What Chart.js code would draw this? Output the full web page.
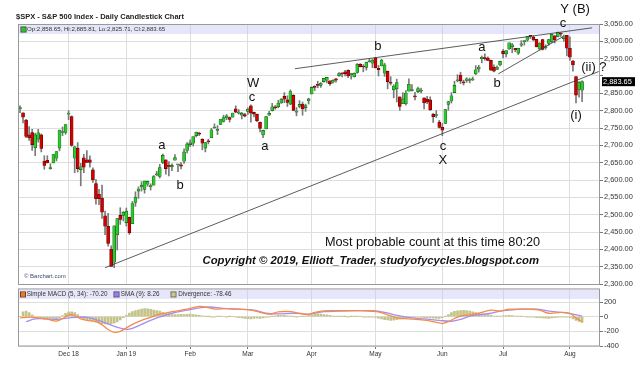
<!DOCTYPE html>
<html>
<head>
<meta charset="utf-8">
<script src="https://cdn.jsdelivr.net/npm/chart.js@4.4.1/dist/chart.umd.min.js"></script>
<style>
  html, body { margin: 0; padding: 0; background: #fff; }
  #wrap { position: relative; width: 640px; height: 384px; overflow: hidden; }
  #main { position: absolute; left: 0; top: 0; }
  #macd { position: absolute; left: 0; top: 284px; }
</style>
</head>
<body>
<div id="wrap">
  <canvas id="main" width="640" height="292"></canvas>
  <canvas id="macd" width="640" height="100"></canvas>
</div>
<script>
// daily candles, Nov 8 2018 .. Aug 7 2019 (index = trading day)
const opens = [2806,2794,2773,2730,2737,2693,2718,2730,2654,2657,2633,2649,2663,2692,2737,2737,
  2790,2783,2663,2691,2630,2664,2658,2658,2629,2590,2559,2548,2497,2466,2400,2363,2442,2498,2498,
  2477,2492,2474,2535,2568,2580,2573,2588,2581,2585,2615,2610,2651,2658,2643,2638,2657,2644,2644,2654,2685,
  2702,2706,2728,2735,2717,2692,2712,2722,2750,2743,2760,2769,2779,2780,2781,2805,2793,2787,2789,
  2798,2814,2795,2790,2766,2730,2747,2787,2800,2811,2811,2822,2841,2831,2819,2844,2796,2812,2819,2809,2828,
  2848,2868,2876,2873,2884,2888,2886,2882,2892,2901,2908,2912,2916,2904,2898,2910,2934,2928,2925,2941,2937,
  2952,2922,2929,2908,2914,2880,2860,2863,2840,2820,2820,2856,2858,2841,2855,2856,2837,2833,2831,2790,2786,2767,
  2752,2763,2818,2828,2852,2886,2903,2882,2887,2887,2889,2906,2920,2950,2952,2952,2945,2926,2919,2932,
  2971,2964,2978,2984,2980,2966,2989,2999,3003,3017,3012,3006,2978,3005,2982,2994,2999,3016,3013,3024,3008,3017,
  2980,2943,2898,2861,2859];
const highs = [2814,2794,2775,2754,2746,2735,2746,2733,2670,2670,2647,2674,2682,2744,2753,2760,
  2800,2785,2697,2708,2648,2674,2685,2670,2635,2601,2573,2585,2510,2504,2410,2468,2489,2520,2509,
  2519,2493,2538,2566,2580,2595,2597,2597,2589,2613,2625,2645,2675,2658,2653,2647,2673,2644,2650,2690,2708,
  2716,2724,2738,2738,2719,2708,2718,2749,2762,2757,2775,2787,2789,2782,2793,2814,2803,2795,2792,
  2808,2817,2796,2790,2767,2744,2784,2798,2821,2815,2830,2835,2852,2843,2860,2846,2809,2829,2825,2819,2836,
  2869,2872,2885,2881,2893,2895,2886,2889,2893,2910,2909,2916,2918,2908,2909,2936,2936,2933,2940,2949,2948,
  2954,2931,2948,2937,2914,2898,2875,2891,2840,2852,2858,2892,2875,2853,2868,2865,2837,2841,2840,2792,2800,2772,
  2763,2804,2827,2852,2885,2904,2911,2888,2895,2894,2897,2930,2931,2958,2964,2955,2946,2932,2929,2943,
  2977,2973,2996,2994,2980,2980,3002,3002,3014,3017,3016,3006,2996,3006,2990,3006,3019,3017,3027,3025,3018,3017,
  3013,2945,2898,2884,2886];
const lows = [2794,2765,2722,2714,2685,2670,2709,2681,2631,2649,2631,2649,2655,2684,2728,2732,
  2774,2697,2621,2623,2583,2621,2650,2637,2593,2530,2529,2489,2442,2409,2351,2347,2398,2472,2482,
  2467,2443,2474,2524,2547,2568,2562,2582,2571,2585,2612,2606,2647,2617,2612,2627,2657,2624,2632,2648,2678,
  2696,2698,2724,2728,2687,2681,2704,2722,2749,2731,2760,2767,2774,2767,2781,2794,2790,2776,2782,
  2789,2767,2782,2768,2739,2722,2747,2786,2799,2804,2808,2821,2823,2812,2817,2800,2785,2808,2787,2798,2819,
  2848,2858,2866,2867,2882,2880,2873,2879,2882,2899,2897,2900,2895,2891,2897,2908,2926,2912,2917,2940,2924,
  2923,2900,2929,2899,2863,2874,2837,2825,2801,2820,2816,2856,2856,2831,2852,2851,2805,2820,2801,2766,2780,2750,
  2728,2763,2801,2822,2852,2883,2878,2874,2882,2880,2887,2904,2911,2938,2946,2944,2916,2912,2918,2929,
  2952,2955,2977,2967,2970,2962,2985,2989,3000,3008,3001,2984,2975,2975,2977,2989,2996,2995,3013,3014,3000,2958,
  2945,2914,2822,2839,2826];
const closes = [2807,2781,2726,2722,2702,2730,2736,2691,2642,2650,2633,2673,2682,2744,2738,2760,
  2790,2700,2696,2633,2638,2637,2651,2651,2600,2546,2546,2507,2467,2417,2351,2468,2489,2486,2507,
  2510,2448,2532,2550,2574,2585,2597,2596,2583,2610,2616,2636,2671,2633,2639,2642,2665,2644,2640,2681,2704,
  2707,2725,2738,2732,2706,2708,2710,2745,2753,2746,2776,2780,2785,2775,2793,2796,2794,2792,2784,
  2804,2793,2790,2771,2749,2743,2783,2792,2811,2808,2822,2833,2833,2824,2855,2801,2798,2818,2805,2815,2834,
  2867,2867,2873,2879,2893,2896,2878,2888,2888,2907,2906,2907,2900,2905,2908,2934,2927,2926,2940,2943,2946,
  2924,2918,2946,2932,2884,2879,2871,2881,2812,2834,2851,2876,2860,2840,2864,2856,2822,2826,2802,2783,2789,2752,
  2744,2803,2826,2843,2873,2887,2886,2880,2892,2887,2890,2918,2926,2954,2950,2945,2917,2914,2925,2942,
  2964,2973,2996,2990,2976,2980,2993,3000,3014,3014,3004,2984,2995,2977,2985,3005,3020,3004,3026,3021,3013,2980,
  2954,2932,2845,2882,2884];

// MACD panel
const macdIdx  = [0,3,6,9,12,14,16,17,18,20,22,25,27,29,31,33,35,37,40,43,46,50,55,59,61,64,68,72,76,79,82,85,89,92,95,97,100,107,114,118,121,124,128,131,134,138,139,141,143,145,148,151,155,158,161,165,168,171,174,178,181,183,185];
const macdVals = [-17,-5,-17,-34,-60,-25,22,26,13,-30,-51,-68,-111,-175,-213,-200,-153,-105,-51,-9,34,68,102,140,132,104,110,102,89,60,34,66,68,47,30,58,80,81,81,66,26,-15,-30,-38,-51,-85,-94,-68,-25,9,26,47,89,77,102,102,102,89,47,60,47,-17,-70];
const smaIdx  = [2,5,9,12,16,20,23,26,30,33,36,40,43,46,50,55,59,62,68,72,77,81,85,90,95,100,107,116,120,124,129,133,138,142,145,148,151,155,158,161,165,170,174,179,182,185];
const smaVals = [-68,-30,-30,-38,-17,-4,-17,-55,-115,-157,-170,-105,-51,-4,47,89,119,132,110,102,89,47,38,47,36,68,81,81,60,17,-17,-30,-51,-62,-38,9,26,47,77,89,102,102,77,55,34,8];
const divergence = [0,65,77,55,25,-5,-15,-20,-20,-15,-20,-25,-30,-15,15,45,65,68,55,30,
  -15,-35,-45,-55,-65,-75,-85,-95,-100,-102,-100,-90,-70,-45,-15,20,50,70,85,95,
  105,110,108,100,90,82,75,60,45,35,30,28,30,32,30,33,35,30,25,20,
  12,5,2,-3,-5,3,5,0,-3,2,0,-5,-12,-18,-22,-28,-30,-25,-20,-22,
  -18,-10,-5,5,12,17,15,18,12,8,3,-2,0,5,10,15,25,32,38,35,
  30,25,18,10,5,3,5,2,-3,2,4,3,0,-2,-4,-3,-5,-10,-20,-30,
  -40,-45,-50,-48,-42,-35,-30,-22,-15,-10,-8,-5,-10,-12,-15,-18,-20,-25,-22,-15,
  5,30,55,72,80,85,88,85,75,65,55,45,35,30,28,20,10,5,8,12,
  15,18,15,10,5,3,0,-3,-5,-8,-12,-15,-18,-20,-22,-18,-15,-10,-5,-2,
  -5,-15,-30,-50,-65,-78];

// x axis: first trading day of each month
const monthIdx = [16,35,56,75,96,117,139,159,181];
const monthLabels = ['Dec 18','Jan 19','Feb','Mar','Apr','May','Jun','Jul','Aug'];

// Elliott wave count labels and trend lines
const waveText  = ['W','c','a','a','b','b','a','b','c','X','c','Y (B)','(ii) ?','(i)'];
const waveIdx   = [76.7,76.4,80.6,46.7,52.7,117.8,152,157,139.2,139.2,178.7,182.7,188.9,183];
const wavePrice = [2878,2837,2696,2699,2584,2985,2982,2878,2696,2656,3051,3091,2924,2785];
const lineFromIdx   = [28,90.5,157.4];
const lineFromPrice = [2347,2921,2906];
const lineToIdx     = [190.5,188.3,178.8];
const lineToPrice   = [2913,3039,3014];

const X_MIN = -0.66, X_MAX = 190.9;
const FONT = '"Liberation Sans", Arial, sans-serif';
const GRID = '#dedede';
const BAND = 'rgba(200,200,245,0.45)';

const fmt = v => {
  const [a, b] = v.toFixed(2).split('.');
  return a.replace(/\B(?=(\d{3})+(?!\d))/g, ',') + '.' + b;
};
const days = closes.map((c, i) => i);

function legendSquare(ctx, x, y, fill, stroke) {
  ctx.fillStyle = fill;
  ctx.fillRect(x, y, 4, 4);
  ctx.strokeStyle = stroke;
  ctx.lineWidth = 1;
  ctx.strokeRect(x - 0.5, y - 0.5, 5, 5);
}

const mainDecor = {
  id: 'mainDecor',
  beforeDatasetsDraw(chart) {
    const { ctx, chartArea: a } = chart;
    ctx.save();
    ctx.fillStyle = BAND;
    ctx.fillRect(a.left, a.top, a.right - a.left, 10);
    ctx.restore();
  },
  afterDraw(chart) {
    const { ctx, chartArea: a, scales: { x, y } } = chart;
    ctx.save();
    ctx.strokeStyle = '#999';
    ctx.lineWidth = 1;
    ctx.strokeRect(a.left + 0.5, a.top + 0.5, a.right - a.left - 1, a.bottom - a.top);

    // title + ohlc header
    ctx.fillStyle = '#222';
    ctx.font = 'bold 7.5px ' + FONT;
    ctx.textBaseline = 'middle';
    ctx.textAlign = 'left';
    ctx.fillText('$SPX - S&P 500 Index - Daily Candlestick Chart', 16, 16.5);
    legendSquare(ctx, a.left + 3.5, a.top + 3.5, '#22c822', '#145014');
    ctx.fillStyle = '#333';
    ctx.font = '6.1px ' + FONT;
    const n = closes.length - 1;
    ctx.fillText('Op:2,858.65, Hi:2,885.81, Lo:2,825.71, Cl:' + fmt(2883.65), a.left + 9, a.top + 5.5);

    ctx.fillStyle = '#3a4a6a';
    ctx.font = '6px ' + FONT;
    ctx.fillText('\u00a9 Barchart.com', a.left + 6, a.bottom - 7.5);

    // trend lines
    ctx.strokeStyle = '#333';
    ctx.lineWidth = 0.8;
    lineFromIdx.forEach((fi, k) => {
      ctx.beginPath();
      ctx.moveTo(x.getPixelForValue(fi), y.getPixelForValue(lineFromPrice[k]));
      ctx.lineTo(x.getPixelForValue(lineToIdx[k]), y.getPixelForValue(lineToPrice[k]));
      ctx.stroke();
    });

    // wave labels
    ctx.fillStyle = '#111';
    ctx.font = '13px ' + FONT;
    ctx.textAlign = 'center';
    waveText.forEach((t, k) => {
      ctx.fillText(t, x.getPixelForValue(waveIdx[k]), y.getPixelForValue(wavePrice[k]));
    });

    ctx.textAlign = 'left';
    ctx.font = '12.7px ' + FONT;
    ctx.fillText('Most probable count at this time 80:20', 325, 242.5);
    ctx.font = 'italic bold 11.3px ' + FONT;
    ctx.fillText('Copyright \u00a9 2019, Elliott_Trader, studyofycycles.blogspot.com', 202.5, 260.5);

    // last price flag
    const py = y.getPixelForValue(closes[n] - 0.35);
    ctx.fillStyle = '#000';
    ctx.fillRect(a.right + 2, py - 4.5, 33, 9);
    ctx.fillStyle = '#fff';
    ctx.font = '7.4px ' + FONT;
    ctx.fillText(fmt(2883.65), a.right + 3, py + 0.5);
    ctx.restore();
  }
};

const macdDecor = {
  id: 'macdDecor',
  beforeDatasetsDraw(chart) {
    const { ctx, chartArea: a } = chart;
    ctx.save();
    ctx.fillStyle = BAND;
    ctx.fillRect(a.left, a.top, a.right - a.left, 9.5);
    ctx.restore();
  },
  afterDraw(chart) {
    const { ctx, chartArea: a } = chart;
    ctx.save();
    ctx.strokeStyle = '#999';
    ctx.lineWidth = 1;
    ctx.strokeRect(a.left + 0.5, a.top - 0.5, a.right - a.left - 1, a.bottom - a.top + 0.5);
    ctx.font = '6.3px ' + FONT;
    ctx.textBaseline = 'middle';
    ctx.textAlign = 'left';
    const cy = a.top + 5;
    legendSquare(ctx, 21, cy - 2, '#f07828', '#7a3a10');
    ctx.fillStyle = '#333';
    ctx.fillText('Simple MACD (5, 34): -70.20', 26.7, cy);
    legendSquare(ctx, 114.5, cy - 2, '#9a78f0', '#4a3a80');
    ctx.fillStyle = '#333';
    ctx.fillText('SMA (9): 8.26', 120.7, cy);
    legendSquare(ctx, 171.5, cy - 2, '#c8c890', '#6a6a40');
    ctx.fillStyle = '#333';
    ctx.fillText('Divergence: -78.46', 178.3, cy);
    ctx.restore();
  }
};

const xTicks = s => { s.ticks = monthIdx.map(v => ({ value: v })); };

new Chart(document.getElementById('main'), {
  type: 'bar',
  data: {
    datasets: [
      {
        label: 'range',
        data: days.map(i => ({ x: i, y: [lows[i], highs[i]] })),
        backgroundColor: '#7a7a7a',
        barThickness: 1,
        grouped: false,
        order: 2
      },
      {
        label: 'body',
        data: days.map(i => ({ x: i, y: [opens[i], closes[i]] })),
        backgroundColor: days.map(i => closes[i] >= opens[i] ? '#2bcb2b' : '#d40000'),
        borderColor: days.map(i => closes[i] >= opens[i] ? '#1d5a1d' : '#5a0000'),
        borderWidth: 0.6,
        borderSkipped: false,
        barThickness: 3,
        minBarLength: 1,
        grouped: false,
        order: 1
      }
    ]
  },
  options: {
    responsive: false,
    animation: false,
    layout: { padding: { left: 18, top: 24, right: 0, bottom: 8 } },
    plugins: { legend: { display: false }, tooltip: { enabled: false } },
    scales: {
      x: {
        type: 'linear', min: X_MIN, max: X_MAX, offset: false,
        afterBuildTicks: xTicks,
        afterFit: s => { s.height = 0; },
        ticks: { display: false },
        grid: { color: GRID, drawTicks: false, offset: false },
        border: { display: false }
      },
      y: {
        position: 'right', min: 2300, max: 3050,
        afterBuildTicks: s => {
          const t = [];
          for (let v = 2300; v <= 3050; v += 50) t.push({ value: v });
          s.ticks = t;
        },
        afterFit: s => { s.width = 40; },
        ticks: {
          autoSkip: false, padding: 1, color: '#333',
          font: { family: FONT, size: 7.4 },
          callback: v => v === 2900 ? '' : fmt(v)
        },
        grid: { color: GRID, tickLength: 3, tickColor: '#777' },
        border: { display: false }
      }
    }
  },
  plugins: [mainDecor]
});

new Chart(document.getElementById('macd'), {
  type: 'bar',
  data: {
    datasets: [
      {
        type: 'line', label: 'Simple MACD (5, 34)',
        data: macdIdx.map((v, k) => ({ x: v, y: macdVals[k] })),
        borderColor: '#f58c46', borderWidth: 1.3, pointRadius: 0, tension: 0.35, order: 1
      },
      {
        type: 'line', label: 'SMA (9)',
        data: smaIdx.map((v, k) => ({ x: v, y: smaVals[k] })),
        borderColor: '#a98cf0', borderWidth: 1.3, pointRadius: 0, tension: 0.35, order: 2
      },
      {
        type: 'bar', label: 'Divergence',
        data: days.map(i => ({ x: i, y: divergence[i] })),
        backgroundColor: '#c3c388', barThickness: 2, order: 3
      }
    ]
  },
  options: {
    responsive: false,
    animation: false,
    layout: { padding: { left: 18, top: 2, right: 0, bottom: 22 } },
    plugins: { legend: { display: false }, tooltip: { enabled: false } },
    scales: {
      x: {
        type: 'linear', min: X_MIN, max: X_MAX, offset: false,
        afterBuildTicks: xTicks,
        afterFit: s => { s.height = 16; },
        ticks: {
          autoSkip: false, maxRotation: 0, padding: 1, color: '#333',
          font: { family: FONT, size: 6.5 },
          callback: v => monthLabels[monthIdx.indexOf(v)]
        },
        grid: { color: GRID, tickLength: 3, tickColor: '#777', offset: false },
        border: { display: false }
      },
      y: {
        position: 'right', min: -400, max: 372,
        afterBuildTicks: s => { s.ticks = [-400, -200, 0, 200].map(v => ({ value: v })); },
        afterFit: s => { s.width = 40; },
        ticks: { autoSkip: false, padding: 1, color: '#333', font: { family: FONT, size: 7.4 } },
        grid: { color: GRID, tickLength: 3, tickColor: '#777' },
        border: { display: false }
      }
    }
  },
  plugins: [macdDecor]
});
</script>
</body>
</html>
